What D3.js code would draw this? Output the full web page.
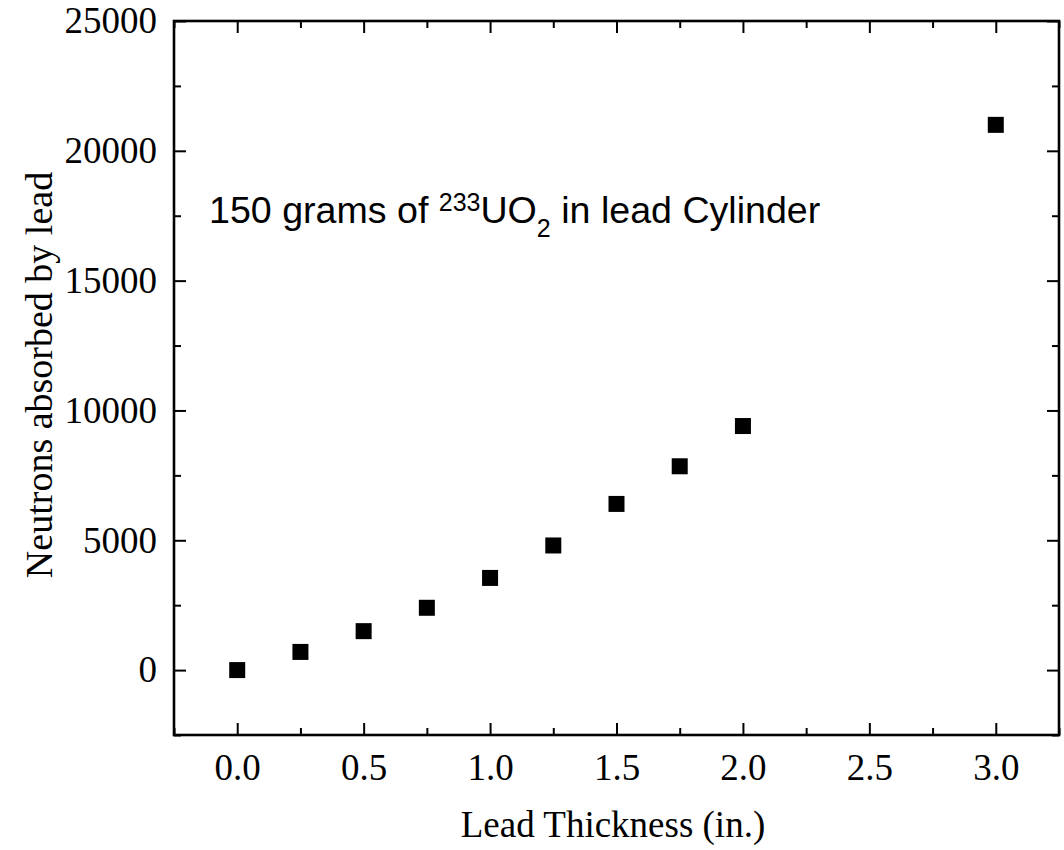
<!DOCTYPE html>
<html>
<head>
<meta charset="utf-8">
<script src="https://cdn.jsdelivr.net/npm/d3@7"></script>
<style>
  html, body { margin: 0; padding: 0; background: #fff; }
  svg { display: block; }
</style>
</head>
<body>
<svg id="chart" width="1064" height="850"></svg>
<script>
// Data
const thickness = [0.0, 0.25, 0.5, 0.75, 1.0, 1.25, 1.5, 1.75, 2.0, 3.0];
const neutrons  = [0, 700, 1500, 2400, 3550, 4800, 6400, 7850, 9400, 21000];
const xTickValues = [0.0, 0.5, 1.0, 1.5, 2.0, 2.5, 3.0];
const yTickValues = [0, 5000, 10000, 15000, 20000, 25000];
const xTitle = "Lead Thickness (in.)";
const yTitle = "Neutrons absorbed by lead";

(function () {
const svg = d3.select("#chart");
const mLeft = 174, mRight = 1059, mTop = 21, mBottom = 735;

const x = d3.scaleLinear().domain([-0.25, 3.25]).range([mLeft, mRight]);
const y = d3.scaleLinear().domain([-2500, 25000]).range([mBottom, mTop]);

const serif = "'Liberation Serif', 'Times New Roman', serif";
const sans = "'Liberation Sans', Arial, sans-serif";

const xMinor = d3.range(-0.25, 3.26, 0.25).filter(v => Math.abs(v * 2 - Math.round(v * 2)) > 1e-6);
const yMinor = d3.range(-2500, 25001, 2500).filter(v => v % 5000 !== 0);

function styleAxis(g) {
  g.select(".domain").remove();
  g.selectAll(".tick line").attr("stroke", "#000").attr("stroke-width", 2);
}

const sides = [
  {make: () => d3.axisBottom(x), t: `translate(0,${mBottom})`, major: xTickValues, minor: xMinor, labels: true, isX: true},
  {make: () => d3.axisTop(x), t: `translate(0,${mTop})`, major: xTickValues, minor: xMinor, labels: false, isX: true},
  {make: () => d3.axisLeft(y), t: `translate(${mLeft},0)`, major: yTickValues, minor: yMinor, labels: true, isX: false},
  {make: () => d3.axisRight(y), t: `translate(${mRight},0)`, major: yTickValues, minor: yMinor, labels: false, isX: false}
];

sides.forEach(a => {
  const majorAxis = a.make()
    .tickValues(a.major).tickSizeInner(-12).tickSizeOuter(0)
    .tickPadding(a.isX ? 19 : 17)
    .tickFormat(a.labels ? (a.isX ? d3.format(".1f") : d3.format("d")) : "");
  const gM = svg.append("g").attr("transform", a.t).call(majorAxis);
  styleAxis(gM);
  gM.selectAll("text")
    .attr("font-family", serif).attr("font-size", 37).attr("fill", "#000");

  const minorAxis = a.make()
    .tickValues(a.minor).tickSizeInner(-7).tickSizeOuter(0).tickFormat("");
  const gm = svg.append("g").attr("transform", a.t).call(minorAxis);
  styleAxis(gm);
});

// frame
svg.append("rect")
  .attr("x", mLeft).attr("y", mTop)
  .attr("width", mRight - mLeft).attr("height", mBottom - mTop)
  .attr("fill", "none").attr("stroke", "#000").attr("stroke-width", 2.6);

// points
const size = 16;
svg.append("g").selectAll("rect")
  .data(thickness.map((t, i) => ({t, v: neutrons[i]})))
  .join("rect")
  .attr("x", d => x(d.t) - size / 2)
  .attr("y", d => y(d.v) - size / 2)
  .attr("width", size).attr("height", size)
  .attr("fill", "#000");

// axis titles
svg.append("text")
  .attr("x", 613).attr("y", 837)
  .attr("text-anchor", "middle")
  .attr("font-family", serif).attr("font-size", 37)
  .text(xTitle);

svg.append("text")
  .attr("transform", `translate(52,375) rotate(-90)`)
  .attr("text-anchor", "middle")
  .attr("font-family", serif).attr("font-size", 38)
  .text(yTitle);

// annotation
const ann = svg.append("text")
  .attr("x", 209).attr("y", 223)
  .attr("font-family", sans).attr("font-size", 37.6).attr("fill", "#000");
ann.append("tspan").text("150 grams of ");
ann.append("tspan").attr("font-size", 25).attr("dy", -12).text("233");
ann.append("tspan").attr("dy", 12).text("UO");
ann.append("tspan").attr("font-size", 25).attr("dy", 14).text("2");
ann.append("tspan").attr("dy", -14).text(" in lead Cylinder");
})();
</script>
</body>
</html>
